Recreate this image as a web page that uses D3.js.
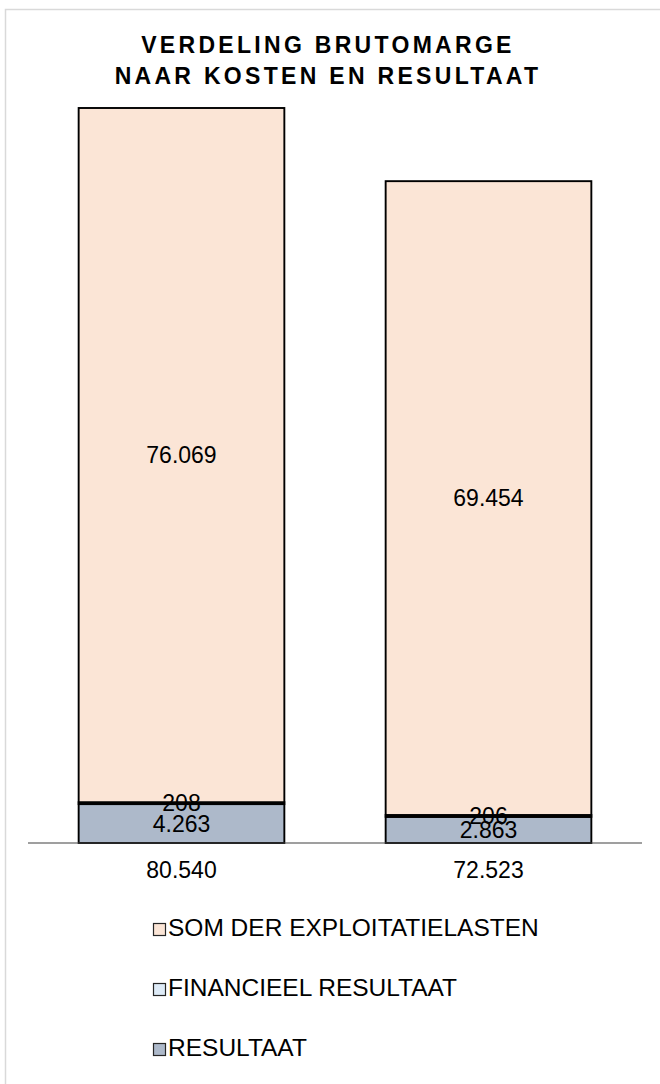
<!DOCTYPE html>
<html>
<head>
<meta charset="utf-8">
<script src="https://cdn.jsdelivr.net/npm/d3@7"></script>
<style>
  body { margin: 0; background: #fff; }
  text { font-family: "Liberation Sans", Arial, sans-serif; }
</style>
</head>
<body>
<div id="vis"></div>
<script>
// Stacked bars: verdeling brutomarge

/* *************************** Data ***************************** */
var categories = ['80.540', '72.523'];
var exploitatielasten = [76069, 69454];
var financieel = [208, 206];
var resultaat = [4263, 2863];

var seriesNames = ['SOM DER EXPLOITATIELASTEN', 'FINANCIEEL RESULTAAT', 'RESULTAAT'];
var seriesColors = ['#FBE5D6', '#DEEBF7', '#ADB9CA'];

/* *************************** Settings ***************************** */
var width = 660;
var height = 1084;

var nl = d3.formatLocale({ decimal: ',', thousands: '.', grouping: [3], currency: ['€', ''] });
var fmt = nl.format(',d');

// rows for the stack, bottom segment first
var rows = categories.map(function(c, i) {
    return { cat: c, res: resultaat[i], fin: financieel[i], exp: exploitatielasten[i] };
});
var keys = ['res', 'fin', 'exp'];
var colorOf = { exp: seriesColors[0], fin: seriesColors[1], res: seriesColors[2] };
var stack = d3.stack().keys(keys)(rows);

var svg = d3.select('#vis')
    .append('svg')
    .attr('width', width)
    .attr('height', height);

// chart frame (runs off the right and bottom edge)
svg.append('rect')
    .attr('x', 5.5).attr('y', 9.5)
    .attr('width', 700).attr('height', 1100)
    .attr('fill', '#fff')
    .attr('stroke', '#D9D9D9')
    .attr('stroke-width', 1.5);

// title
var title = svg.append('text')
    .attr('text-anchor', 'middle')
    .style('font-size', '23px')
    .style('font-weight', 'bold')
    .style('letter-spacing', '3.3px')
    .attr('fill', '#000');
title.append('tspan').attr('x', 328).attr('y', 53).text('VERDELING BRUTOMARGE');
title.append('tspan').attr('x', 328).attr('y', 84).text('NAAR KOSTEN EN RESULTAAT');

/* *************************** Scales ***************************** */
var xScale = d3.scaleBand()
    .domain(categories)
    .range([28, 642])
    .paddingInner(0.33)
    .paddingOuter(0.165);

var totals = rows.map(function(d) { return d.res + d.fin + d.exp; });
var yScale = d3.scaleLinear()
    .domain([0, d3.max(totals)])
    .range([843, 108]);

/* *************************** Bars ***************************** */
var layers = svg.append('g').selectAll('g')
    .data(stack)
    .enter().append('g')
    .attr('fill', function(d) { return colorOf[d.key]; });

layers.selectAll('rect')
    .data(function(d) { return d; })
    .enter().append('rect')
    .attr('x', function(d) { return xScale(d.data.cat); })
    .attr('y', function(d) { return yScale(d[1]); })
    .attr('width', xScale.bandwidth())
    .attr('height', function(d) { return yScale(d[0]) - yScale(d[1]); })
    .attr('stroke', '#000')
    .attr('stroke-width', 1.9);

// baseline
svg.append('line')
    .attr('x1', 28).attr('x2', 642)
    .attr('y1', yScale(0)).attr('y2', yScale(0))
    .attr('stroke', '#404040')
    .attr('stroke-width', 1.2);

// value labels, drawn on top of every bar
var labelGroups = svg.append('g').selectAll('g')
    .data(stack)
    .enter().append('g');

labelGroups.selectAll('text')
    .data(function(d) { return d; })
    .enter().append('text')
    .attr('x', function(d) { return xScale(d.data.cat) + xScale.bandwidth() / 2; })
    .attr('y', function(d) { return (yScale(d[0]) + yScale(d[1])) / 2; })
    .attr('dy', '0.35em')
    .attr('text-anchor', 'middle')
    .attr('fill', '#000')
    .style('font-size', '23px')
    .text(function(d) { return fmt(d[1] - d[0]); });

/* *************************** Axis ***************************** */
var xAxis = d3.axisBottom(xScale).tickSize(0).tickPadding(0);
var axisG = svg.append('g')
    .attr('transform', 'translate(0,' + 862 + ')')
    .call(xAxis);
axisG.select('.domain').remove();
axisG.selectAll('text')
    .attr('dy', '0.71em')
    .style('font-size', '23px')
    .style('font-family', '"Liberation Sans", Arial, sans-serif')
    .attr('fill', '#000');

/* *************************** Legend ***************************** */
var legend = svg.append('g').selectAll('g')
    .data(seriesNames)
    .enter().append('g')
    .attr('transform', function(d, i) { return 'translate(153,' + (923 + i * 60) + ')'; });

legend.append('rect')
    .attr('x', 0.5).attr('y', 0.5)
    .attr('width', 12).attr('height', 12)
    .attr('fill', function(d, i) { return seriesColors[i]; })
    .attr('stroke', '#262626')
    .attr('stroke-width', 1.2);

legend.append('text')
    .attr('x', 15)
    .attr('y', 13)
    .attr('fill', '#000')
    .style('font-size', '24.5px')
    .text(function(d) { return d; });
</script>
</body>
</html>
